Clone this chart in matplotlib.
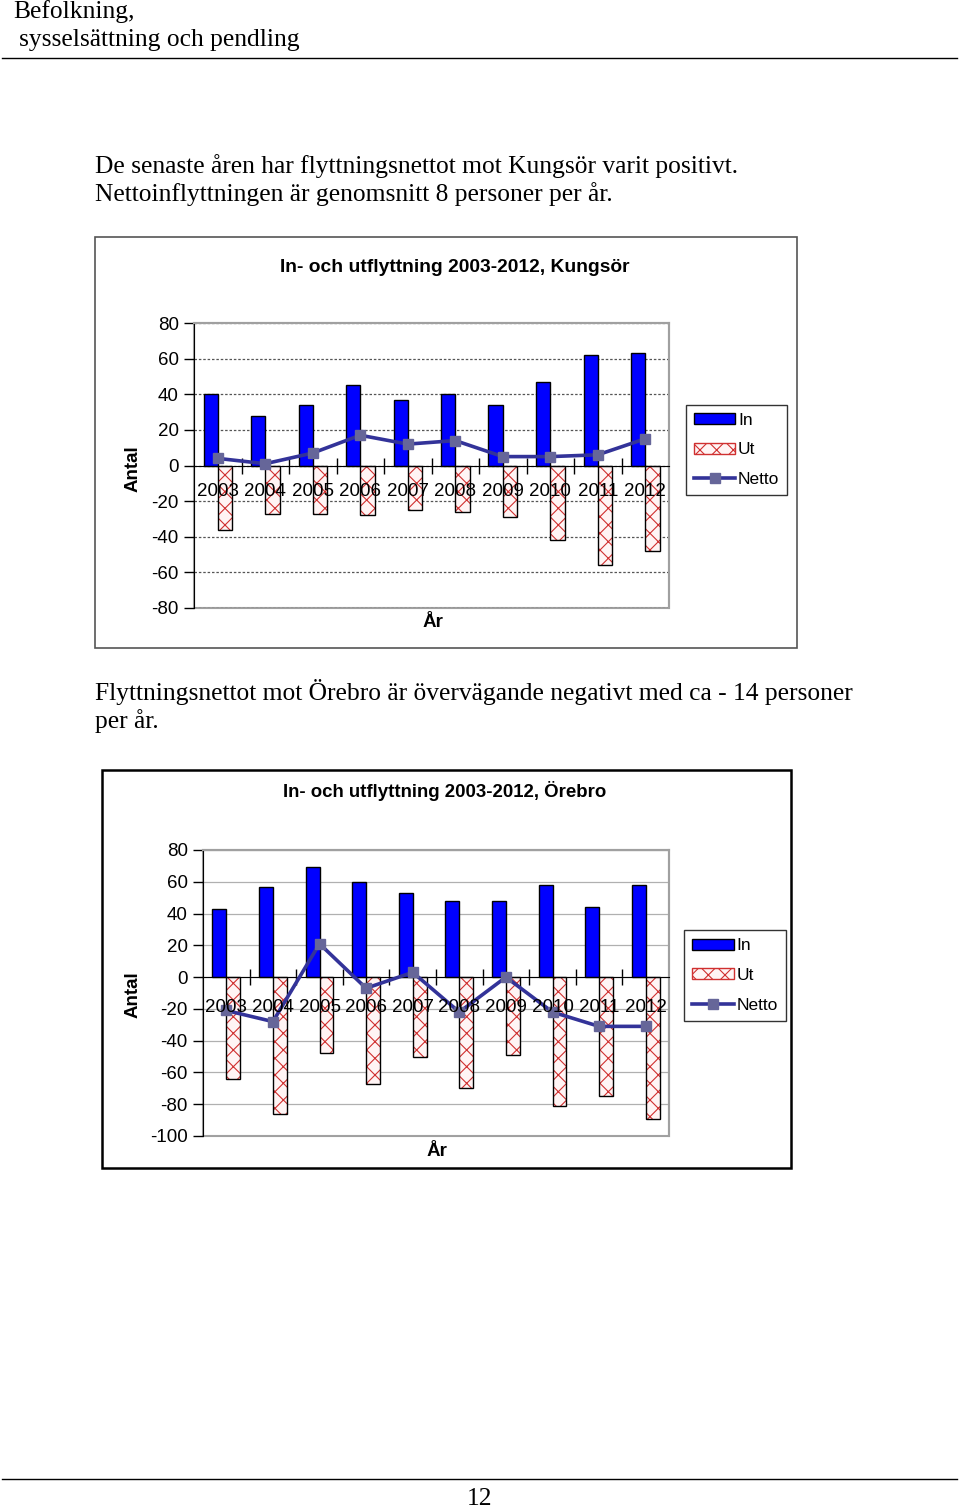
import matplotlib

matplotlib.use("Agg")

import matplotlib.pyplot as plt
import numpy as np
from matplotlib.lines import Line2D
from matplotlib.patches import Patch, Rectangle

W, H = 960, 1510

years = ["2003", "2004", "2005", "2006", "2007", "2008", "2009", "2010", "2011", "2012"]

kungsor_in = [40, 28, 34, 45, 37, 40, 34, 47, 62, 63]
kungsor_ut = [-36, -27, -27, -28, -25, -26, -29, -42, -56, -48]
kungsor_netto = [4, 1, 7, 17, 12, 14, 5, 5, 6, 15]

orebro_in = [43, 57, 69, 60, 53, 48, 48, 58, 44, 58]
orebro_ut = [-64, -86, -48, -67, -50, -70, -49, -81, -75, -89]
orebro_netto = [-21, -28, 21, -7, 3, -22, 0, -22, -31, -31]

SANS = "Liberation Sans"
SERIF = "Liberation Serif"
BLUE = "#0000ff"
LINE = "#333399"
MARK = "#666699"
UT_FACE = "#fff4f4"
UT_HATCH = "#d03030"
SERIF_SIZE = 18.4

plt.rcParams["hatch.linewidth"] = 0.8


def box(x0, y0, x1, y1):
    # pixel box (top-left origin) -> figure fraction rect
    return [x0 / W, 1 - y1 / H, (x1 - x0) / W, (y1 - y0) / H]


def frame(fig, x0, y0, x1, y1, color, lw):
    r = box(x0, y0, x1, y1)
    fig.add_artist(Rectangle((r[0], r[1]), r[2], r[3], transform=fig.transFigure,
                             fill=False, edgecolor=color, linewidth=lw))


def page_text(fig, x, y, s, **kw):
    fig.text(x / W, 1 - y / H, s, va="center", **kw)


def draw_chart(fig, rect, vin, vut, vnet, ymin, ymax, grid_style, label_drop,
               title, title_size, title_xy, xlabel_xy, ylabel_xy):
    ax = fig.add_axes(box(*rect))
    x = np.arange(len(years))
    w = 0.3
    ax.bar(x - w / 2, vin, width=w, color=BLUE, edgecolor="black", linewidth=1, zorder=3)
    ax.bar(x + w / 2, vut, width=w, color=UT_FACE, edgecolor=UT_HATCH, hatch="xx",
           linewidth=0, zorder=3)
    ax.bar(x + w / 2, vut, width=w, fill=False, edgecolor="black", linewidth=1, zorder=3)
    ax.plot(x, vnet, color=LINE, linewidth=2.6, marker="s", markersize=7.5,
            markerfacecolor=MARK, markeredgecolor=MARK, zorder=5)

    ax.set_xlim(-0.5, len(years) - 0.5)
    ax.set_ylim(ymin, ymax)
    yt = list(range(ymin, ymax + 1, 20))
    ax.set_yticks(yt)
    ax.set_yticklabels([str(v) for v in yt], fontfamily=SANS)
    ax.tick_params(axis="y", direction="out", length=7, width=1, labelsize=13.5, pad=4)
    if grid_style == "dashed":
        ax.grid(axis="y", color="#555555", linestyle=(0, (2, 1.5)), linewidth=0.9)
    else:
        ax.grid(axis="y", color="#b0b0b0", linestyle="-", linewidth=0.9)
    ax.set_axisbelow(True)

    for s in ["top", "right"]:
        ax.spines[s].set_color("#a0a0a0")
        ax.spines[s].set_linewidth(1.5)
    ax.spines["left"].set_color("black")
    ax.spines["bottom"].set_position(("data", 0))
    ax.spines["bottom"].set_color("black")
    ax.spines["bottom"].set_zorder(4)
    ax.add_patch(Rectangle((0, 0), 1, 1, transform=ax.transAxes, fill=False,
                           edgecolor="#a0a0a0", linewidth=1.5, zorder=0.5, clip_on=False))

    # category ticks sit on the zero line, between the groups
    ax.set_xticks([])
    ax.set_xticks(np.arange(0.5, len(years) - 0.5, 1), minor=True)
    ax.tick_params(axis="x", which="minor", direction="inout", length=12, width=1)
    for i, year in enumerate(years):
        ax.annotate(year, (i, 0), xytext=(0, -label_drop), textcoords="offset points",
                    ha="center", va="baseline", fontfamily=SANS, fontsize=13.5, zorder=10)

    fig.text(title_xy[0] / W, 1 - title_xy[1] / H, title, ha="center", va="center",
             fontfamily=SANS, fontweight="bold", fontsize=title_size)
    fig.text(xlabel_xy[0] / W, 1 - xlabel_xy[1] / H, "År", ha="center", va="center",
             fontfamily=SANS, fontweight="bold", fontsize=13.5)
    fig.text(ylabel_xy[0] / W, 1 - ylabel_xy[1] / H, "Antal", ha="center", va="center",
             rotation=90, fontfamily=SANS, fontweight="bold", fontsize=13.5)
    return ax


def draw_legend(fig, rect):
    lax = fig.add_axes(box(*rect))
    lax.set_axis_off()
    handles = [
        Patch(facecolor=BLUE, edgecolor="black", linewidth=1),
        Patch(facecolor=UT_FACE, edgecolor=UT_HATCH, hatch="xx", linewidth=1),
        Line2D([0], [0], color=LINE, linewidth=2.6, marker="s", markersize=7.5,
               markerfacecolor=MARK, markeredgecolor=MARK),
    ]
    leg = lax.legend(handles, ["In", "Ut", "Netto"], loc="center", frameon=True,
                     fancybox=False, edgecolor="black", prop={"family": SANS, "size": 12.5},
                     handlelength=2.4, handleheight=0.6, handletextpad=0.15,
                     labelspacing=0.85, borderpad=0.45, borderaxespad=0)
    leg.get_frame().set_linewidth(1)


fig = plt.figure(figsize=(W / 100, H / 100), dpi=100)

# page header
page_text(fig, 13, 12, "Befolkning,", ha="left", fontfamily=SERIF, fontsize=SERIF_SIZE)
page_text(fig, 19, 40, "sysselsättning och pendling", ha="left", fontfamily=SERIF,
          fontsize=SERIF_SIZE)
fig.add_artist(Line2D([2 / W, 957 / W], [1 - 58 / H, 1 - 58 / H], color="black",
                      linewidth=1, transform=fig.transFigure))

page_text(fig, 95, 166, "De senaste åren har flyttningsnettot mot Kungsör varit positivt.",
          ha="left", fontfamily=SERIF, fontsize=SERIF_SIZE)
page_text(fig, 95, 194, "Nettoinflyttningen är genomsnitt 8 personer per år.",
          ha="left", fontfamily=SERIF, fontsize=SERIF_SIZE)

# chart 1 - Kungsör
frame(fig, 95, 237, 797, 648, "#555555", 1.2)
draw_chart(fig, (194, 323, 669, 608), kungsor_in, kungsor_ut, kungsor_netto, -80, 80,
           "dashed", 21.6, "In- och utflyttning 2003-2012, Kungsör", 13.9,
           (455, 267), (433, 623), (133, 469))
draw_legend(fig, (685, 404, 788, 496))

page_text(fig, 95, 692,
          "Flyttningsnettot mot Örebro är övervägande negativt med ca - 14 personer",
          ha="left", fontfamily=SERIF, fontsize=SERIF_SIZE)
page_text(fig, 95, 721, "per år.", ha="left", fontfamily=SERIF, fontsize=SERIF_SIZE)

# chart 2 - Örebro
frame(fig, 102, 770, 791, 1168, "black", 1.8)
draw_chart(fig, (203, 850, 669, 1136), orebro_in, orebro_ut, orebro_netto, -100, 80,
           "solid", 25.2, "In- och utflyttning 2003-2012, Örebro", 13.4,
           (445, 791), (437, 1151), (133, 995))
draw_legend(fig, (686, 930, 784, 1021))

# footer
fig.add_artist(Line2D([2 / W, 957 / W], [1 - 1479 / H, 1 - 1479 / H], color="black",
                      linewidth=1, transform=fig.transFigure))
page_text(fig, 480, 1499, "12", ha="center", fontfamily=SERIF, fontsize=SERIF_SIZE)

fig.savefig("out.png", dpi=100)
